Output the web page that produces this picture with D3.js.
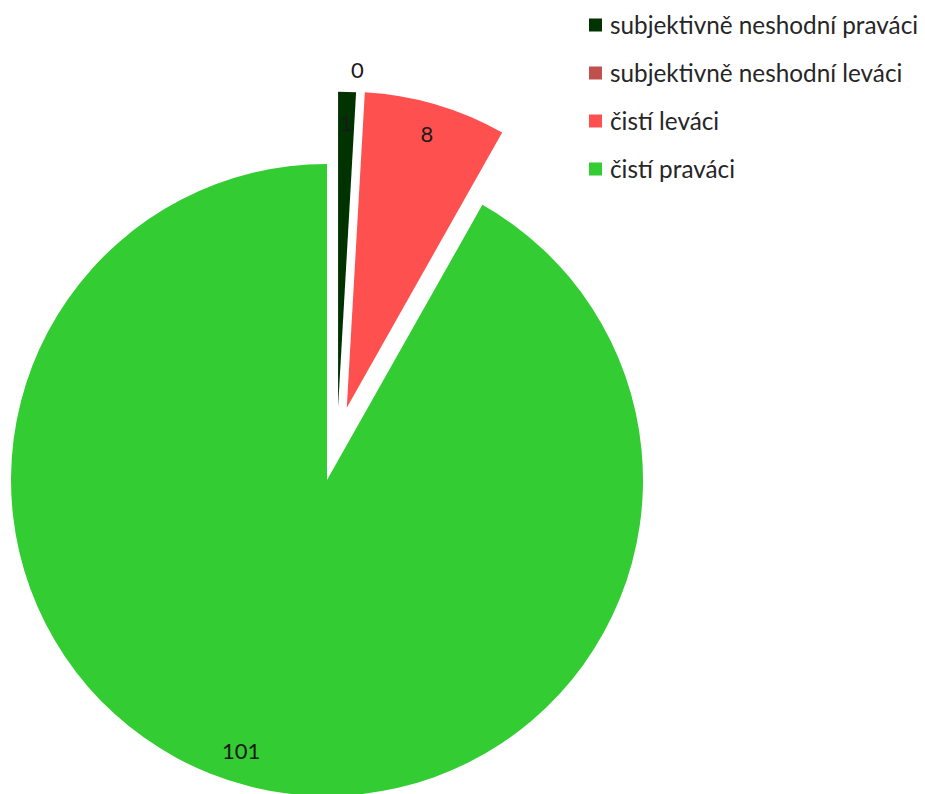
<!DOCTYPE html>
<html>
<head>
<meta charset="utf-8">
<script src="https://cdn.jsdelivr.net/npm/d3@7"></script>
<style>
  body { margin: 0; background: #fff; }
  svg { display: block; font-family: Lato, "Open Sans", sans-serif; }
</style>
</head>
<body>
<svg id="chart"></svg>
<script>
// data, in drawing order (clockwise from 12 o'clock)
const categories = ["subjektivně neshodní praváci", "subjektivně neshodní leváci", "čistí leváci", "čistí praváci"];
const values = [1, 0, 8, 101];
const colors = ["#003300", "#c0504d", "#ff5050", "#33cc33"];

const width = 925;
const height = 794;
const radius = 316;
const cx = 327, cy = 480;

// explosion of each slice: distance and direction (degrees clockwise from top)
const explode = [
    { dist: 73, dir: 8.7 },
    { dist: 73, dir: 8.7 },
    { dist: 75, dir: 15.3 },
    { dist: 0, dir: 0 }
];

const svg = d3.select("#chart")
    .attr("width", width)
    .attr("height", height);

const pie = d3.pie().sort(null).value(d => d)(values);

const arc = d3.arc().innerRadius(0).outerRadius(radius);

const g = svg.append("g").attr("transform", `translate(${cx}, ${cy})`);

const slices = g.selectAll("g.slice")
    .data(pie)
    .join("g")
    .attr("class", "slice")
    .attr("transform", (d, i) => {
        const a = explode[i].dir * Math.PI / 180;
        return `translate(${explode[i].dist * Math.sin(a)}, ${-explode[i].dist * Math.cos(a)})`;
    });

slices.append("path")
    .attr("d", arc)
    .attr("fill", (d, i) => colors[i]);

// data labels
slices.append("text")
    .attr("transform", d => {
        const mid = (d.startAngle + d.endAngle) / 2 + (d.value > 50 ? 0.05 : 0);
        const r = d.value === 0 ? radius * 1.07 : radius * 0.9;
        return `translate(${r * Math.sin(mid)}, ${-r * Math.cos(mid)})`;
    })
    .attr("text-anchor", "middle")
    .attr("dy", "0.35em")
    .style("font-size", "22px")
    .style("fill", "#1a1a1a")
    .text(d => d.value);

// legend
const legend = svg.append("g")
    .attr("transform", "translate(589, 25)");

const items = legend.selectAll("g")
    .data(categories)
    .join("g")
    .attr("transform", (d, i) => `translate(0, ${i * 48})`);

items.append("rect")
    .attr("x", 0)
    .attr("y", -6.5)
    .attr("width", 13)
    .attr("height", 13)
    .attr("fill", (d, i) => colors[i]);

items.append("text")
    .attr("x", 21)
    .attr("dy", "0.35em")
    .style("font-size", "24.3px")
    .style("fill", "#262626")
    .text(d => d);
</script>
</body>
</html>
